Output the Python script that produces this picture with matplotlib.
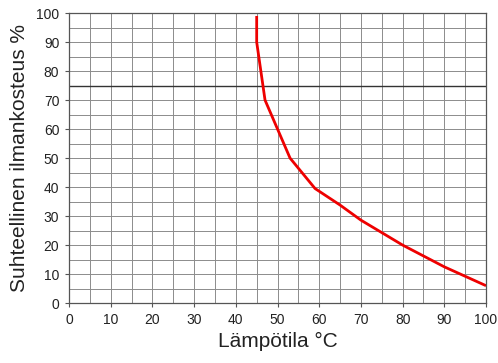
import matplotlib
matplotlib.use("Agg")
import matplotlib.pyplot as plt
from matplotlib.ticker import MultipleLocator

plt.rcParams['font.family'] = ['Liberation Sans', 'DejaVu Sans']

# curve
temp = [45, 45, 47, 53, 59, 65, 70, 80, 90, 100]
humidity = [99, 90, 70, 50, 39.5, 33.8, 28.6, 20, 12.5, 6]

fig = plt.figure(figsize=(4.98, 3.63), dpi=100)
ax = fig.add_axes([0.1386, 0.165, 0.976 - 0.1386, 0.964 - 0.165])

ax.set_xlim(0, 100)
ax.set_ylim(0, 100)
ax.xaxis.set_major_locator(MultipleLocator(10))
ax.yaxis.set_major_locator(MultipleLocator(10))
ax.xaxis.set_minor_locator(MultipleLocator(5))
ax.yaxis.set_minor_locator(MultipleLocator(5))

ax.grid(True, which='both', color='#8c8c8c', linewidth=0.7)
ax.axhline(75, color='#333333', linewidth=1.0)
ax.set_axisbelow(True)

ax.plot(temp, humidity, color='#ee0000', linewidth=2.0, solid_capstyle='butt')

ax.tick_params(which='major', length=3, width=0.8, color='#555555',
               labelsize=10, pad=4, labelcolor='#222222')
ax.tick_params(which='minor', length=0)
for spine in ax.spines.values():
    spine.set_edgecolor('#555555')
    spine.set_linewidth(0.9)

ax.set_xlabel('Lämpötila °C', fontsize=15, color='#222222', labelpad=4)
ax.set_ylabel('Suhteellinen ilmankosteus %', fontsize=15, color='#222222', labelpad=5)

fig.savefig('out.png', dpi=100)
